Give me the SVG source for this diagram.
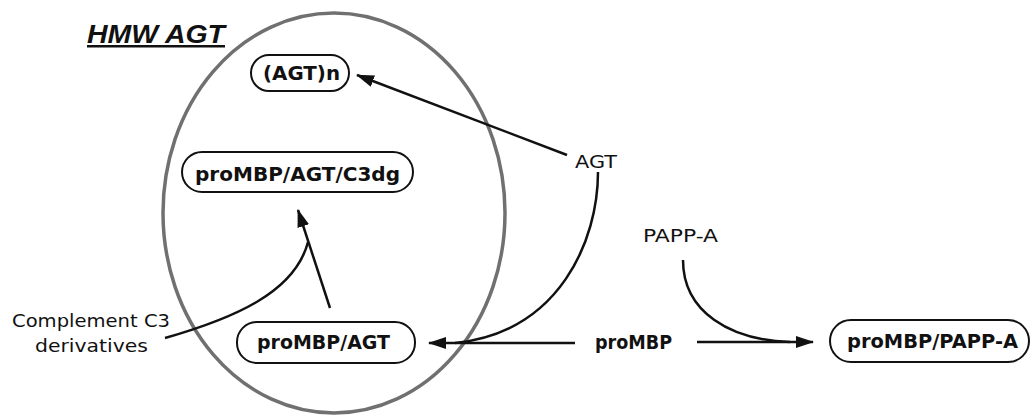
<svg xmlns="http://www.w3.org/2000/svg" width="1031" height="416" viewBox="0 0 1031 416">
<defs>
<style>
.node{fill:#fff;stroke:#111;stroke-width:2}
.nt{font-family:"DejaVu Sans",sans-serif;font-weight:bold;font-size:20px;fill:#111}
.lt{font-family:"DejaVu Sans",sans-serif;font-size:18px;fill:#111}
.c{fill:none;stroke:#111;stroke-width:2.5}
</style>
<marker id="ah" viewBox="0 0 18 12" refX="17" refY="6" markerWidth="18" markerHeight="12" markerUnits="userSpaceOnUse" orient="auto">
<path d="M0,0 L18,6 L0,12 Z" fill="#111"/>
</marker>
</defs>
<rect width="1031" height="416" fill="#fff"/>
<g id="hmw">
<ellipse cx="334" cy="213" rx="171" ry="200" fill="none" stroke="#707070" stroke-width="3.5"/>
<text x="87" y="43" font-family="Liberation Sans, Arial, sans-serif" font-weight="bold" font-style="italic" font-size="25" textLength="138" lengthAdjust="spacingAndGlyphs" fill="#111" text-decoration="underline">HMW AGT</text>
</g>
<g id="agtn">
<rect class="node" x="251" y="55" width="98" height="36" rx="18"/>
<text class="nt" x="263" y="80" textLength="77" lengthAdjust="spacingAndGlyphs">(AGT)n</text>
</g>
<g id="c3dg">
<rect class="node" x="182" y="152" width="231" height="40" rx="20"/>
<text class="nt" x="195" y="181" textLength="205" lengthAdjust="spacingAndGlyphs">proMBP/AGT/C3dg</text>
</g>
<g id="mbpagt">
<rect class="node" x="237" y="322" width="178" height="41" rx="20"/>
<text class="nt" x="257" y="349" textLength="133" lengthAdjust="spacingAndGlyphs">proMBP/AGT</text>
</g>
<g id="mbppappa">
<rect class="node" x="830" y="320" width="199" height="42" rx="21"/>
<text class="nt" x="847" y="348" textLength="171" lengthAdjust="spacingAndGlyphs">proMBP/PAPP-A</text>
</g>
<g id="agt"><text class="lt" x="575" y="168" textLength="42" lengthAdjust="spacingAndGlyphs">AGT</text></g>
<g id="pappa"><text class="lt" x="643" y="242" textLength="75" lengthAdjust="spacingAndGlyphs">PAPP-A</text></g>
<g id="prombp"><text class="nt" x="595" y="349" textLength="77" lengthAdjust="spacingAndGlyphs">proMBP</text></g>
<g id="c3">
<text class="lt" x="12" y="327" textLength="158" lengthAdjust="spacingAndGlyphs">Complement C3</text>
<text class="lt" x="35" y="352" textLength="113" lengthAdjust="spacingAndGlyphs">derivatives</text>
</g>
<g id="connectors">
<path class="c" d="M567,155 L357,75" marker-end="url(#ah)"/>
<path class="c" d="M598,172 C598,240 560,332 455,343"/>
<path class="c" d="M575,343 L429,343" marker-end="url(#ah)"/>
<path class="c" d="M697,342 L813,342" marker-end="url(#ah)"/>
<path class="c" d="M683,260 C683,312 730,340 790,342"/>
<path class="c" d="M330,308 L298,210" marker-end="url(#ah)"/>
<path class="c" d="M165,338 C235,318 295,292 308,242"/>
</g>
</svg>
